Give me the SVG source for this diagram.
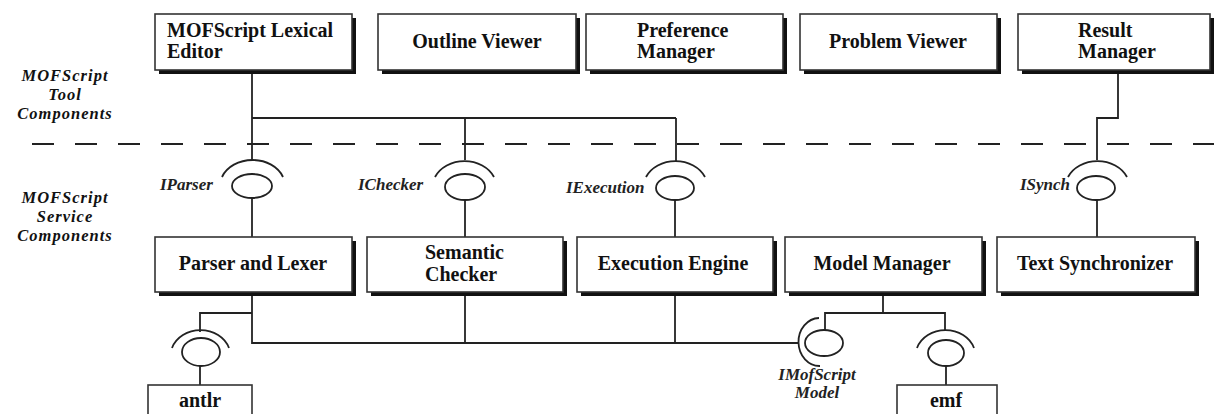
<svg xmlns="http://www.w3.org/2000/svg" width="1214" height="414" viewBox="0 0 1214 414">
<style>
.shadow{fill:#111}
.box{fill:#fff;stroke:#333;stroke-width:1.6}
.t{font-family:"Liberation Serif","Times New Roman",serif;font-size:20px;font-weight:bold;fill:#111}
.c{text-anchor:middle}
.lbl{font-family:"Liberation Serif","Times New Roman",serif;font-size:16.5px;letter-spacing:1px;font-weight:bold;font-style:italic;fill:#111;text-anchor:middle}
.il{font-family:"Liberation Serif","Times New Roman",serif;font-size:17px;font-weight:bold;font-style:italic;fill:#222}
.ln{fill:none;stroke:#222;stroke-width:1.8}
.ball{fill:#fff;stroke:#222;stroke-width:1.8}
</style>
<rect width="1214" height="414" fill="#fff"/>

<g id="layer-labels">
<text class="lbl" x="65" y="81">MOFScript</text>
<text class="lbl" x="65" y="100">Tool</text>
<text class="lbl" x="65" y="119">Components</text>
<text class="lbl" x="65" y="203">MOFScript</text>
<text class="lbl" x="65" y="222">Service</text>
<text class="lbl" x="65" y="241">Components</text>
</g>

<g id="separator">
<line x1="32" y1="144" x2="1214" y2="144" stroke="#222" stroke-width="2" stroke-dasharray="22 21"/>
</g>

<g id="connectors">
<polyline class="ln" points="252,70 252,160"/>
<polyline class="ln" points="252,118 676,118"/>
<polyline class="ln" points="465,118 465,160"/>
<polyline class="ln" points="676,118 676,161"/>
<polyline class="ln" points="1118,70 1118,118 1097,118 1097,160"/>
<line class="ln" x1="252" y1="198" x2="252" y2="237"/>
<line class="ln" x1="465" y1="200" x2="465" y2="237"/>
<line class="ln" x1="675" y1="200" x2="675" y2="237"/>
<line class="ln" x1="1097" y1="200" x2="1097" y2="237"/>
<polyline class="ln" points="252,292 252,343 798,343"/>
<line class="ln" x1="465" y1="292" x2="465" y2="343"/>
<line class="ln" x1="675" y1="292" x2="675" y2="343"/>
<polyline class="ln" points="252,313 200,313 200,332"/>
<line class="ln" x1="200" y1="366" x2="200" y2="385"/>
<line class="ln" x1="883" y1="292" x2="883" y2="313"/>
<polyline class="ln" points="825,330 825,313 945,313 945,330"/>
<line class="ln" x1="946" y1="367" x2="946" y2="385"/>
</g>

<g id="iface-iparser">
<path class="ln" d="M222 177 A32.5 26 0 0 1 283 177"/>
<ellipse class="ball" cx="252" cy="186" rx="20" ry="12"/>
<text class="il" x="160" y="190">IParser</text>
</g>
<g id="iface-ichecker">
<path class="ln" d="M435 177 A32 26 0 0 1 494 177"/>
<ellipse class="ball" cx="465" cy="187" rx="20" ry="13"/>
<text class="il" x="358" y="190">IChecker</text>
</g>
<g id="iface-iexecution">
<path class="ln" d="M646 177 A32 26 0 0 1 705 177"/>
<ellipse class="ball" cx="675" cy="188" rx="19" ry="12"/>
<text class="il" x="566" y="193">IExecution</text>
</g>
<g id="iface-isynch">
<path class="ln" d="M1068 177 A32 26 0 0 1 1127 177"/>
<ellipse class="ball" cx="1096" cy="188" rx="19" ry="12"/>
<text class="il" x="1020" y="190">ISynch</text>
</g>
<g id="iface-antlr">
<path class="ln" d="M172 348 A30 26 0 0 1 229 348"/>
<ellipse class="ball" cx="201" cy="352" rx="19" ry="14"/>
</g>
<g id="iface-emf">
<path class="ln" d="M917 348 A30 26 0 0 1 974 348"/>
<ellipse class="ball" cx="946" cy="353" rx="18" ry="13"/>
</g>
<g id="iface-imofscript">
<path class="ln" d="M819 318 A21 24 0 0 0 820 366"/>
<ellipse class="ball" cx="824" cy="343" rx="19" ry="13"/>
<text class="il" x="817" y="380" text-anchor="middle">IMofScript</text>
<text class="il" x="817" y="398" text-anchor="middle">Model</text>
</g>

<g id="lexical-editor">
<rect class="shadow" x="159" y="18" width="197" height="56"/>
<rect class="box" x="155" y="14" width="197" height="56"/>
<text class="t" x="167" y="37">MOFScript Lexical</text>
<text class="t" x="167" y="58">Editor</text>
</g>
<g id="outline-viewer">
<rect class="shadow" x="382" y="18" width="198" height="56"/>
<rect class="box" x="378" y="14" width="198" height="56"/>
<text class="t c" x="477" y="48">Outline Viewer</text>
</g>
<g id="preference-manager">
<rect class="shadow" x="590" y="18" width="197" height="56"/>
<rect class="box" x="586" y="14" width="197" height="56"/>
<text class="t" x="637" y="37">Preference</text>
<text class="t" x="637" y="58">Manager</text>
</g>
<g id="problem-viewer">
<rect class="shadow" x="804" y="18" width="197" height="56"/>
<rect class="box" x="800" y="14" width="197" height="56"/>
<text class="t c" x="898" y="48">Problem Viewer</text>
</g>
<g id="result-manager">
<rect class="shadow" x="1022" y="18" width="192" height="56"/>
<rect class="box" x="1018" y="14" width="192" height="56"/>
<text class="t" x="1078" y="37">Result</text>
<text class="t" x="1078" y="58">Manager</text>
</g>

<g id="parser-lexer">
<rect class="shadow" x="159" y="241" width="197" height="55"/>
<rect class="box" x="155" y="237" width="197" height="55"/>
<text class="t c" x="253" y="270">Parser and Lexer</text>
</g>
<g id="semantic-checker">
<rect class="shadow" x="371" y="241" width="196" height="55"/>
<rect class="box" x="367" y="237" width="196" height="55"/>
<text class="t" x="425" y="259">Semantic</text>
<text class="t" x="425" y="281">Checker</text>
</g>
<g id="execution-engine">
<rect class="shadow" x="581" y="241" width="196" height="55"/>
<rect class="box" x="577" y="237" width="196" height="55"/>
<text class="t c" x="673" y="270">Execution Engine</text>
</g>
<g id="model-manager">
<rect class="shadow" x="789" y="241" width="197" height="55"/>
<rect class="box" x="785" y="237" width="197" height="55"/>
<text class="t c" x="882" y="270">Model Manager</text>
</g>
<g id="text-synchronizer">
<rect class="shadow" x="1001" y="241" width="198" height="55"/>
<rect class="box" x="997" y="237" width="198" height="55"/>
<text class="t c" x="1095" y="270">Text Synchronizer</text>
</g>

<g id="antlr">
<rect class="box" x="148" y="385" width="104" height="40"/>
<text class="t c" x="200" y="407">antlr</text>
</g>
<g id="emf">
<rect class="box" x="897" y="385" width="100" height="40"/>
<text class="t c" x="946" y="407">emf</text>
</g>
</svg>
